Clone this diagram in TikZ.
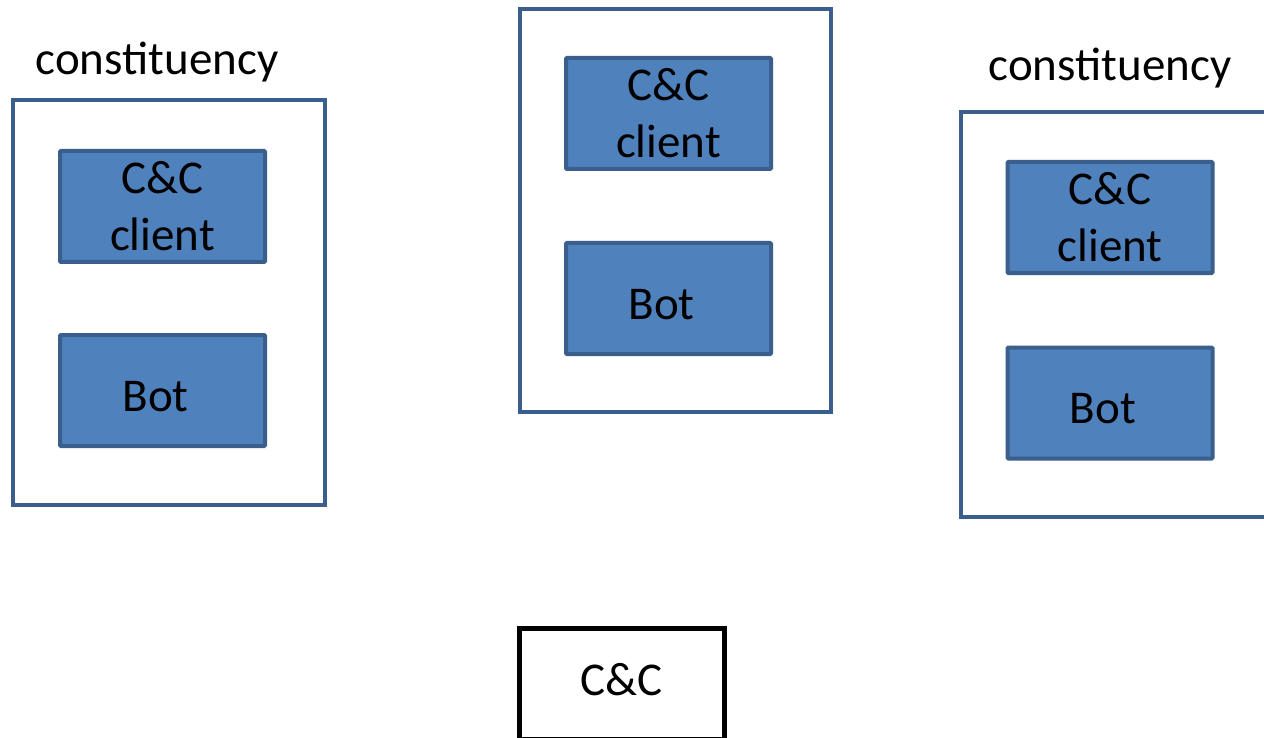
\documentclass[tikz,border=0pt]{standalone}
\usepackage{fontspec}
\setmainfont{Carlito}
\definecolor{boxfill}{HTML}{4F81BD}
\definecolor{boxline}{HTML}{3A5F8C}
\newcommand{\botlabel}{\raisebox{-6pt}[\height][\depth]{Bot}\hspace{14pt}}

\begin{document}
\begin{tikzpicture}[x=1pt,y=-1pt,
		font=\fontsize{47}{57}\selectfont,
		container/.style={draw=boxline, line width=3.5pt, fill=white, minimum width=312pt, minimum height=405pt, inner sep=0pt},
		partbox/.style={draw=boxline, line width=4pt, fill=boxfill, minimum width=205pt, minimum height=111pt, inner sep=0pt, align=center, rounded corners=1pt},
		ccbox/.style={draw=black, line width=5pt, fill=white, minimum width=205pt, minimum height=111pt, inner sep=0pt}]
			\useasboundingbox (0,0) rectangle (1264,738);
			% left constituency
			\node[container] (left) at (169,302.5) {};
			\node[partbox] (leftclient) at (162.5,206.5) {C\&C\\client};
			\node[partbox] (leftbot) at (162.5,390.5) {\botlabel};
			\node (leftlabel) at (157,62) {constituency};
			% middle
			\node[container, minimum width=311pt, minimum height=403pt] (mid) at (675.5,210.5) {};
			\node[partbox] (midclient) at (668.5,113.5) {C\&C\\client};
			\node[partbox] (midbot) at (668.5,298.5) {\botlabel};
			% right constituency
			\node[container] (right) at (1117,314.5) {};
			\node[partbox] (rightclient) at (1110,217.5) {C\&C\\client};
			\node[partbox] (rightbot) at (1110,403) {\botlabel};
			\node (rightlabel) at (1110,68) {constituency};
			% server
			\node[ccbox] (server) at (621.5,683.5) {\raisebox{4pt}[\height][\depth]{C\&C}};
		\end{tikzpicture}
\end{document}
